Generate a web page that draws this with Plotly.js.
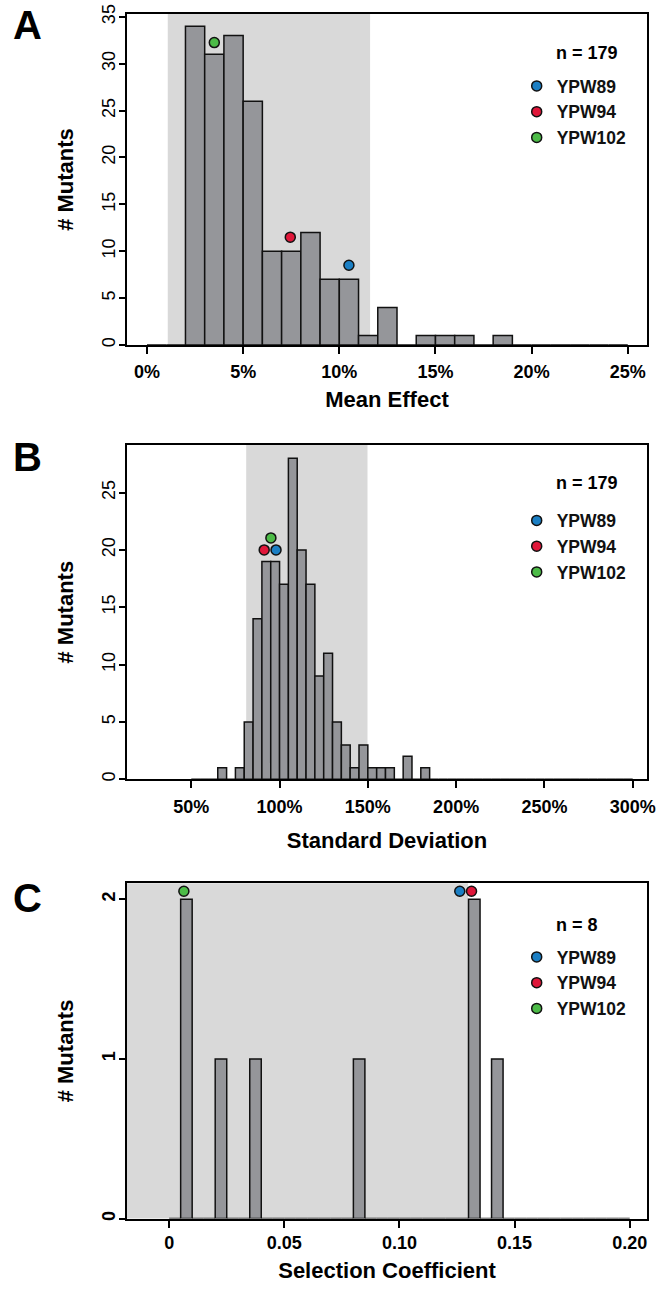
<!DOCTYPE html>
<html>
<head>
<meta charset="utf-8">
<script src="https://cdn.plot.ly/plotly-3.0.1.min.js"></script>
<style>html,body{margin:0;padding:0;background:#fff;}#chart{width:656px;height:1289px;}</style>
</head>
<body>
<div id="chart"></div>
<script>
// ---------- Panel A: Mean Effect (%), bins of 1% ----------
const binsA_left = [0,1,2,3,4,5,6,7,8,9,10,11,12,13,14,15,16,17,18,19,20,21,22,23,24];
const countsA    = [0,0,34,31,33,26,10,10,12,7,7,1,4,0,1,1,1,0,1,0,0,0,0,0,0];
const binWidthA = 1;
const shadeA = [1.08, 11.6];
const ticksA = [0,5,10,15,20,25];
const tickTextA = ['0%','5%','10%','15%','20%','25%'];

// ---------- Panel B: Standard Deviation (%), bins of 5% ----------
const binsB_left = [50,55,60,65,70,75,80,85,90,95,100,105,110,115,120,125,130,135,140,145,150,155,160,165,170,175,180,185,190,195,200,205,210,215,220,225,230,235,240,245,250,255,260,265,270,275,280,285,290,295];
const countsB    = [0,0,0,1,0,1,5,14,19,19,17,28,20,17,9,11,5,3,1,3,1,1,1,0,2,0,1,0,0,0,0,0,0,0,0,0,0,0,0,0,0,0,0,0,0,0,0,0,0,0];
const binWidthB = 5;
const shadeB = [81.1, 149.8];
const ticksB = [50,100,150,200,250,300];
const tickTextB = ['50%','100%','150%','200%','250%','300%'];

// ---------- Panel C: Selection Coefficient, bins of 0.005 ----------
const binsC_left = [0,0.005,0.01,0.015,0.02,0.025,0.03,0.035,0.04,0.045,0.05,0.055,0.06,0.065,0.07,0.075,0.08,0.085,0.09,0.095,0.1,0.105,0.11,0.115,0.12,0.125,0.13,0.135,0.14,0.145,0.15,0.155,0.16,0.165,0.17,0.175,0.18,0.185,0.19,0.195];
const countsC    = [0,2,0,0,1,0,0,1,0,0,0,0,0,0,0,0,1,0,0,0,0,0,0,0,0,0,2,0,1,0,0,0,0,0,0,0,0,0,0,0];
const binWidthC = 0.005;
const shadeC = [-0.0183, 0.1298];
const ticksC = [0,0.05,0.1,0.15,0.2];
const tickTextC = ['0','0.05','0.10','0.15','0.20'];

// ---------- Highlighted strains ----------
const strains = ['YPW89','YPW94','YPW102'];
const strainColors = ['#1b7fc4','#e0173a','#4cbb47'];
const strainA_x = [10.5, 7.45, 3.5];
const strainA_y = [8.5, 11.5, 32.25];
const strainB_x = [98.0, 91.3, 95.1];
const strainB_y = [20, 20, 21.05];
const strainC_x = [0.1262, 0.1313, 0.0064];
const strainC_y = [2.05, 2.05, 2.05];

const sampleSizes = [179, 179, 8];
const panelLetters = ['A','B','C'];

// ---------- styles ----------
const FONT = 'Liberation Sans, Arial, Helvetica, sans-serif';
const barGray = '#95969a';
const shadeGray = '#d9d9d9';

function centers(lefts, w){ return lefts.map(v => v + w/2); }

function barTrace(lefts, counts, w, xa, ya){
  return {
    type:'bar', x: centers(lefts,w), y: counts, width: w,
    marker:{color:barGray, line:{color:'#111', width:1.5}},
    xaxis:xa, yaxis:ya, showlegend:false, hoverinfo:'x+y'
  };
}
function strainTraces(xs, ys, xa, ya, lg){
  return strains.map((s,i)=>({
    type:'scatter', mode:'markers', name:s,
    x:[xs[i]], y:[ys[i]], xaxis:xa, yaxis:ya, legend:lg,
    marker:{size:10, color:strainColors[i], line:{color:'#111', width:1.5}},
    cliponaxis:false
  }));
}

const data = [
  barTrace(binsA_left, countsA, binWidthA, 'x', 'y'),
  ...strainTraces(strainA_x, strainA_y, 'x', 'y', 'legend'),
  barTrace(binsB_left, countsB, binWidthB, 'x2', 'y2'),
  ...strainTraces(strainB_x, strainB_y, 'x2', 'y2', 'legend2'),
  barTrace(binsC_left, countsC, binWidthC, 'x3', 'y3'),
  ...strainTraces(strainC_x, strainC_y, 'x3', 'y3', 'legend3'),
];

const W = 656, H = 1289;
const xdom = [127/W, 647/W];
const ydomA = [1-345/H, 1-14/H];
const ydomB = [1-779.3/H, 1-445/H];
const ydomC = [1-1218.6/H, 1-883.3/H];

function xax(range, tickvals, ticktext, title, anchor, standoff, lblOff){
  return {
    domain: xdom, range: range, anchor: anchor,
    tickmode:'array', tickvals: tickvals, ticktext: ticktext,
    ticks:'outside', ticklen:7, tickwidth:2, tickcolor:'#000',
    ticklabelstandoff: lblOff,
    showline:true, mirror:true, linewidth:2, linecolor:'#000',
    showgrid:false, zeroline:false, automargin:false,
    tickfont:{family:FONT, size:18, color:'#000', weight:'bold'},
    title:{text:title, font:{family:FONT, size:22, color:'#000', weight:'bold'}, standoff:standoff}
  };
}
function yax(domain, range, dtick, anchor, bold){
  return {
    domain: domain, range: range, anchor: anchor,
    tickmode:'linear', tick0:0, dtick:dtick, tickangle:-90,
    ticks:'outside', ticklen:6, tickwidth:2, tickcolor:'#000',
    ticklabelstandoff:-3,
    showline:true, mirror:true, linewidth:2, linecolor:'#000',
    showgrid:false, zeroline:false, automargin:false,
    tickfont:{family:FONT, size:18, color:'#000', weight: bold ? 'bold' : 'normal'},
    title:{text:'# Mutants', font:{family:FONT, size:22, color:'#000', weight:'bold'}, standoff:19}
  };
}
function shade(r, xref, yref){
  return {type:'rect', xref:xref, yref:yref+' domain', x0:r[0], x1:r[1], y0:0, y1:1,
          fillcolor:shadeGray, line:{width:0}, layer:'below'};
}
function legendCfg(topPx){
  return {
    x: 516.7/W, xanchor:'left', y: 1-topPx/H, yanchor:'top',
    bgcolor:'rgba(0,0,0,0)', borderwidth:0, itemwidth:30,
    font:{family:FONT, size:17.5, color:'#111', weight:'bold'}
  };
}
function note(text, xPx, yPx, size){
  return {text:text, xref:'paper', yref:'paper', x:xPx/W, y:1-yPx/H, xanchor:'center', yanchor:'middle',
          showarrow:false, font:{family:FONT, size:size, color:'#000', weight:'bold'}};
}

const layout = {
  width: W, height: H,
  margin:{l:0, r:0, t:0, b:0},
  paper_bgcolor:'#fff', plot_bgcolor:'#fff',
  font:{family:FONT, color:'#000'},
  bargap:0, barmode:'overlay', showlegend:true,
  xaxis: xax([-1.04, 26.0], ticksA, tickTextA, 'Mean Effect', 'y', 11, 2),
  yaxis: yax(ydomA, [0, 35.3], 5, 'x', false),
  xaxis2: xax([13.6, 308.1], ticksB, tickTextB, 'Standard Deviation', 'y2', 17, 3),
  yaxis2: yax(ydomB, [0, 29.15], 5, 'x2', false),
  xaxis3: xax([-0.0183, 0.2075], ticksC, tickTextC, 'Selection Coefficient', 'y3', 10, 0),
  yaxis3: yax(ydomC, [0, 2.1], 1, 'x3', true),
  shapes: [ shade(shadeA,'x','y'), shade(shadeB,'x2','y2'), shade(shadeC,'x3','y3') ],
  legend: legendCfg(68),
  legend2: legendCfg(502.5),
  legend3: legendCfg(939),
  annotations: [
    note(panelLetters[0], 27, 25, 40),
    note(panelLetters[1], 27, 457, 40),
    note(panelLetters[2], 27, 898, 40),
    note('n = ' + sampleSizes[0], 586.7, 53, 18),
    note('n = ' + sampleSizes[1], 586.7, 483.3, 18),
    note('n = ' + sampleSizes[2], 576.7, 925, 18)
  ]
};

Plotly.newPlot('chart', data, layout, {displayModeBar:false, staticPlot:true});
</script>
</body>
</html>
